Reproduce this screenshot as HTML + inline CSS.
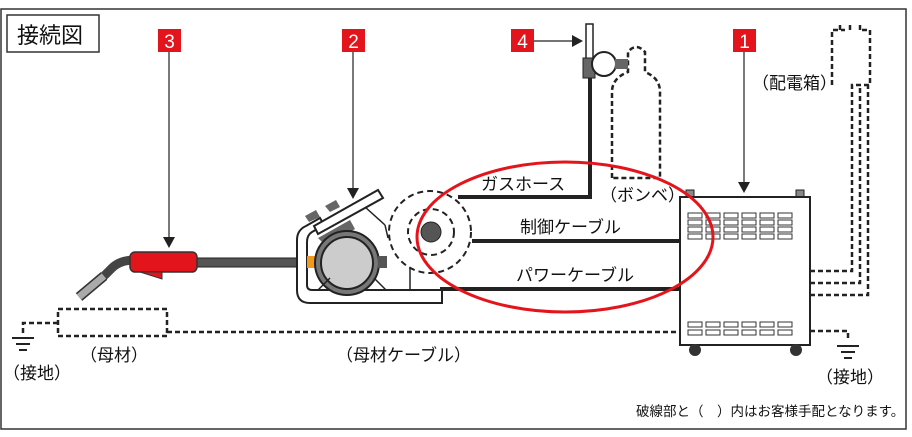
<!DOCTYPE html>
<html><head><meta charset="utf-8"><style>
html,body{margin:0;padding:0;background:#fff;width:912px;height:437px;overflow:hidden}
svg{display:block}
text{font-family:"Liberation Sans","Noto Sans CJK JP",sans-serif;fill:#111}
</style></head><body>
<svg width="912" height="437" viewBox="0 0 912 437">
<rect x="1" y="9" width="905" height="420" fill="#fff" stroke="#333" stroke-width="1.5"/>
<rect x="7" y="15" width="92" height="37" fill="#fff" stroke="#333" stroke-width="1.5"/>
<text x="17" y="43" font-size="22">接続図</text>

<g fill="none" stroke="#222" stroke-width="2.5" stroke-dasharray="5,3">
<rect x="58" y="309" width="109" height="27"/>
<path d="M167 332 H680"/>
<path d="M810 331 H848 V340"/>
<path d="M58 323 H23 V333"/>
<path d="M612 178 V92 Q612 78 628 72 V52 Q636 42 645 52 V72 Q660 78 660 92 V178 Z"/>
<path d="M810 271 H852 V85 H870 V30 H860"/>
<path d="M810 283 H860 V85"/>
<path d="M810 295 H868 V85"/>
<path d="M832 85 V30 H845 M840 30 V22 M850 30 V22 M860 30 V22"/>
</g>
<g stroke="#222" stroke-width="2"><path d="M12 338 H34 M16 344 H30 M19 350 H27"/><path d="M837 346 H859 M841 352 H855 M844 358 H852"/></g>

<!-- torch -->
<path d="M100 280 L112 268 Q120 260 135 260" fill="none" stroke="#444" stroke-width="9"/>
<path d="M79 297 L104 276" stroke="#333" stroke-width="10" fill="none"/>
<path d="M79 297 L104 276" stroke="#aaa" stroke-width="7" fill="none"/>
<rect x="197" y="258" width="100" height="9" fill="#555" stroke="#222"/>
<rect x="130" y="252" width="67" height="20" rx="5" fill="#e3141b" stroke="#333" stroke-width="1.5"/>
<path d="M140 272 L162 279 L162 272Z" fill="#e3141b" stroke="#333"/>

<!-- feeder -->
<path d="M297 240 Q297 230 306 226 L320 218 L324 225 L312 232 Q307 235 307 242 V285 Q307 290 312 290 H442 V303 H310 Q297 303 297 290 Z" fill="#fff" stroke="#222" stroke-width="2"/>
<path d="M314 226 L378 190 L383 198 L318 234Z" fill="#fff" stroke="#222" stroke-width="2"/>
<path d="M318 238 L350 220 L355 229 L326 246Z" fill="#666"/>
<path d="M305 216 L316 210 L320 217 L309 222Z M325 206 L336 200 L340 207 L330 212Z" fill="#666"/>
<path d="M365 207 L385 225 M385 225 L388 238" stroke="#222" stroke-width="1.5"/>
<rect x="307" y="256" width="12" height="12" fill="#f39a1e"/>
<circle cx="347" cy="263" r="32" fill="#777" stroke="#222" stroke-width="2"/>
<circle cx="347" cy="263" r="26" fill="#ccc" stroke="#222" stroke-width="2"/>
<rect x="378" y="256" width="9" height="12" fill="#555"/>
<path d="M318 290 L330 278 M374 278 L386 290 M410 260 V290" stroke="#222" stroke-width="1.5"/>
<g fill="none" stroke="#222" stroke-width="2" stroke-dasharray="6,4">
<circle cx="430" cy="232" r="41" fill="#fff"/><circle cx="431" cy="232" r="23"/></g>
<circle cx="431" cy="232" r="10" fill="#555" stroke="#222"/>

<!-- cables -->
<path d="M458 197 H590 V72" fill="none" stroke="#222" stroke-width="4"/>
<path d="M472 241 H680 M440 289 H680" stroke="#222" stroke-width="4"/>
<rect x="586" y="24" width="7" height="38" fill="#fff" stroke="#222" stroke-width="1.5"/>
<rect x="583" y="58" width="12" height="20" fill="#666" stroke="#222"/>
<circle cx="604" cy="64" r="12" fill="#fff" stroke="#222" stroke-width="2"/>
<rect x="615" y="59" width="13" height="10" fill="#666"/>

<!-- welder -->
<rect x="686" y="190" width="8" height="8" fill="#888" stroke="#222"/>
<rect x="796" y="190" width="8" height="8" fill="#888" stroke="#222"/>
<rect x="680" y="197" width="130" height="148" fill="#fff" stroke="#222" stroke-width="2"/>
<circle cx="695" cy="350" r="6" fill="#333"/><circle cx="796" cy="350" r="6" fill="#333"/>
<g fill="#fff" stroke="#333" stroke-width="1">
<g id="v"><rect x="688" y="213" width="14" height="5"/><rect x="706" y="213" width="14" height="5"/><rect x="724" y="213" width="14" height="5"/><rect x="742" y="213" width="14" height="5"/><rect x="760" y="213" width="14" height="5"/><rect x="778" y="213" width="14" height="5"/></g>
<use href="#v" y="7"/><use href="#v" y="14"/><use href="#v" y="21"/>
<use href="#v" y="109"/><use href="#v" y="117"/>
</g>

<ellipse cx="565" cy="237" rx="148" ry="75" fill="none" stroke="#e3141b" stroke-width="3"/>

<g fill="#e3141b"><rect x="158" y="29" width="23" height="23"/><rect x="342" y="29" width="23" height="23"/><rect x="511" y="29" width="23" height="23"/><rect x="733" y="29" width="23" height="23"/></g>
<g font-size="19" text-anchor="middle"><text x="169.5" y="48" style="fill:#fff">3</text><text x="353.5" y="48" style="fill:#fff">2</text><text x="522.5" y="48" style="fill:#fff">4</text><text x="744.5" y="48" style="fill:#fff">1</text></g>
<g stroke="#222" stroke-width="1.2"><path d="M169 52 V237 M353 52 V188 M534 41 H572 M744 52 V182"/></g>
<g fill="#222"><path d="M163 237 H175 L169 248Z M347 188 H359 L353 199Z M572 35 V47 L583 41Z M738 182 H750 L744 193Z"/></g>

<g font-size="17">
<text x="481" y="190">ガスホース</text>
<text x="520" y="233">制御ケーブル</text>
<text x="516" y="281">パワーケーブル</text>
<text x="600" y="201">（ボンベ）</text>
<text x="752" y="89">（配電箱）</text>
<text x="80" y="361">（母材）</text>
<text x="336" y="361">（母材ケーブル）</text>
<text x="3" y="379">（接地）</text>
<text x="816" y="383">（接地）</text>
<text x="636" y="416" font-size="13.5">破線部と（　）内はお客様手配となります。</text>
</g>
</svg>
</body></html>
